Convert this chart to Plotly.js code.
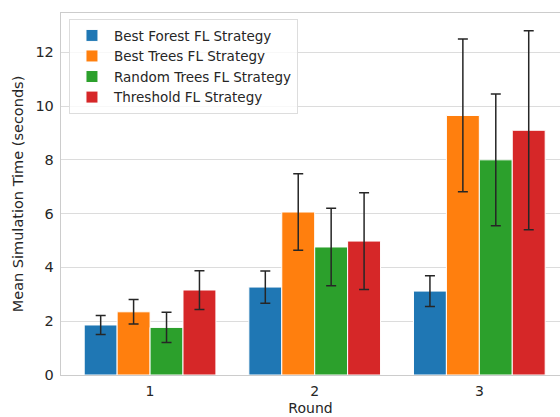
<!DOCTYPE html>
<html><head><meta charset="utf-8">
<script src="https://cdn.plot.ly/plotly-3.0.1.min.js"></script>
<style>html,body{margin:0;padding:0;background:#fff}#chart{width:560px;height:417px}</style>
</head><body><div id="chart"></div>
<script>
const rounds = ["1", "2", "3"];
const seriesNames = ["Best Forest FL Strategy", "Best Trees FL Strategy", "Random Trees FL Strategy", "Threshold FL Strategy"];
const bestForest = [1.86, 3.27, 3.12];
const bestForestErr = [0.355, 0.60, 0.57];
const bestTrees = [2.35, 6.06, 9.65];
const bestTreesErr = [0.455, 1.42, 2.84];
const randomTrees = [1.77, 4.76, 8.00];
const randomTreesErr = [0.56, 1.44, 2.45];
const threshold = [3.16, 4.98, 9.10];
const thresholdErr = [0.72, 1.80, 3.70];
const colors = ["#1f77b4", "#ff7f0e", "#2ca02c", "#d62728"];

const vals = [bestForest, bestTrees, randomTrees, threshold];
const errs = [bestForestErr, bestTreesErr, randomTreesErr, thresholdErr];
const traces = vals.map((v, i) => ({
  type: "bar", x: rounds, y: v, name: seriesNames[i],
  marker: {color: colors[i], line: {color: "#ffffff", width: 1}},
  error_y: {type: "data", array: errs[i], visible: true, color: "#262626", thickness: 1.5, width: 5}
}));
const layout = {
  width: 560, height: 417,
  margin: {l: 61, r: 0, t: 13, b: 42},
  paper_bgcolor: "#ffffff", plot_bgcolor: "#ffffff",
  font: {family: "DejaVu Sans", color: "#262626", size: 14},
  barmode: "group", bargap: 0.2, bargroupgap: 0,
  xaxis: {type: "category", range: [-0.541, 2.49], showgrid: false,
    showline: true, linecolor: "#cccccc", linewidth: 1.25, mirror: true,
    ticks: "", ticklabelstandoff: 3, tickfont: {size: 14, color: "#262626"},
    title: {text: "Round", font: {size: 14, color: "#262626"}, standoff: 5}},
  yaxis: {range: [0, 13.46], dtick: 2, showgrid: true, gridcolor: "#dcdcdc", gridwidth: 1,
    showline: true, linecolor: "#cccccc", linewidth: 1.25, zeroline: false,
    ticks: "", ticklabelstandoff: 3, tickfont: {size: 14.5, color: "#262626"},
    title: {text: "Mean Simulation Time (seconds)", font: {size: 14.5, color: "#262626"}, standoff: 8}},
  legend: {x: 0.016, y: 0.983, xanchor: "left", yanchor: "top",
    bgcolor: "rgba(255,255,255,0.8)", bordercolor: "#dddddd", borderwidth: 1,
    font: {size: 13.5, color: "#262626"}, tracegroupgap: 0, itemwidth: 34},
  showlegend: true
};
Plotly.newPlot("chart", traces, layout, {displayModeBar: false, staticPlot: true});
</script></body></html>
